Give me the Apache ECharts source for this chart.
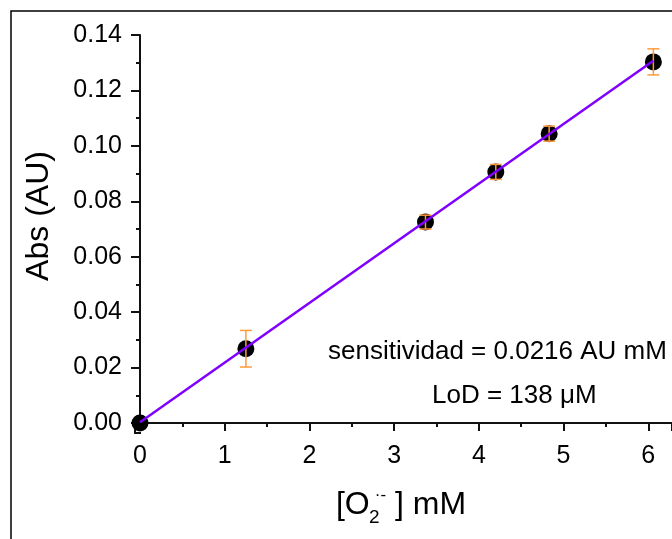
<!DOCTYPE html>
<html>
<head>
<meta charset="utf-8">
<script src="https://cdn.jsdelivr.net/npm/echarts@6/dist/echarts.min.js"></script>
<style>html,body{margin:0;padding:0;background:#fff}#c{width:672px;height:539px}</style>
</head>
<body>
<div id="c"></div>
<script>
// Data
const concentration = [0, 1.25, 3.37, 4.20, 4.83, 6.06];          // [O2-] mM
const absorbance    = [0.0000, 0.0268, 0.0725, 0.0906, 0.1044, 0.1303]; // Abs (AU)
const absError      = [0.0000, 0.0066, 0.0025, 0.0027, 0.0027, 0.0047];
const fitX = [0, 6.06];
const fitY = [0.0003, 0.1307];
const xTicks = [0, 1, 2, 3, 4, 5, 6];
const yTicks = [0.00, 0.02, 0.04, 0.06, 0.08, 0.10, 0.12, 0.14];

const FONT = 'Liberation Sans, Arial, sans-serif';
const chart = echarts.init(document.getElementById('c'), null, {renderer: 'canvas'});

const points = concentration.map((x, i) => [x, absorbance[i]]);
const errData = concentration.map((x, i) => [x, absorbance[i], absError[i]]);
const fitData = fitX.map((x, i) => [x, fitY[i]]);

chart.setOption({
  animation: false,
  backgroundColor: '#fff',
  grid: {left: 140, right: -5, top: 35, bottom: 116, containLabel: false},
  xAxis: {
    type: 'value', min: 0, max: 6.28, interval: 1, offset: 10,
    name: '[O{sub|2}{sup|·-} ] mM',
    nameLocation: 'middle', nameGap: 51,
    nameTextStyle: {
      fontFamily: FONT, fontSize: 32, color: '#000', padding: [0, 10, 0, 0],
      rich: {
        sub: {fontFamily: FONT, fontSize: 19, color: '#000', width: 1, padding: [24, 0, 0, 4]},
        sup: {fontFamily: FONT, fontSize: 17, color: '#000', padding: [0, 0, 20, 0]}
      }
    },
    axisLine: {show: true, lineStyle: {color: '#111', width: 2}},
    axisTick: {show: true, inside: false, length: 8, lineStyle: {color: '#111', width: 2}},
    minorTick: {show: true, splitNumber: 2, length: 4, lineStyle: {color: '#111', width: 2}},
    axisLabel: {
      fontFamily: FONT, fontSize: 25, color: '#000', margin: 11, showMaxLabel: false,
      formatter: v => (xTicks.indexOf(Math.round(v * 1000) / 1000) >= 0 ? String(Math.round(v)) : '')
    },
    splitLine: {show: false}
  },
  yAxis: {
    type: 'value', min: 0, max: 0.14, interval: 0.02, offset: 5,
    name: 'Abs (AU)', nameLocation: 'middle', nameGap: 80, nameRotate: 90,
    nameTextStyle: {fontFamily: FONT, fontSize: 32, color: '#000', padding: [0, 0, 0, 26]},
    axisLine: {show: true, lineStyle: {color: '#111', width: 2}},
    axisTick: {show: true, inside: false, length: 9, lineStyle: {color: '#111', width: 2}},
    minorTick: {show: true, splitNumber: 2, length: 4, lineStyle: {color: '#111', width: 2}},
    axisLabel: {
      fontFamily: FONT, fontSize: 25, color: '#000', margin: 13,
      formatter: v => yTicks.reduce((a, t) => Math.abs(t - v) < 1e-6 ? t.toFixed(2) : a, '')
    },
    splitLine: {show: false}
  },
  graphic: [
    {type: 'rect', silent: true, z: -1, shape: {x: 11, y: 11, width: 720, height: 600},
     style: {fill: 'none', stroke: '#000', lineWidth: 1.5}},
    {type: 'polyline', silent: true, shape: {points: [[135, 422], [135, 433], [141, 433]]},
     style: {stroke: '#111', lineWidth: 2, fill: 'none'}},
    {type: 'text', left: 328, top: 339, style: {text: 'sensitividad = 0.0216 AU mM', font: '26px ' + FONT, fill: '#000'}},
    {type: 'text', left: 432, top: 383, style: {text: 'LoD = 138 μM', font: '26px ' + FONT, fill: '#000'}}
  ],
  series: [
    {
      type: 'scatter', data: points, symbol: 'circle', symbolSize: 17, z: 2,
      itemStyle: {color: '#000', opacity: 1}, silent: true
    },
    {
      type: 'custom', z: 3, silent: true, data: errData,
      renderItem: function (params, api) {
        const x = api.value(0), y = api.value(1), e = api.value(2);
        if (!e) return null;
        const top = api.coord([x, y + e]);
        const bot = api.coord([x, y - e]);
        const h = 6;
        const st = {stroke: '#FF9A3A', lineWidth: 1.5};
        return {type: 'group', children: [
          {type: 'line', shape: {x1: top[0], y1: top[1], x2: bot[0], y2: bot[1]}, style: st},
          {type: 'line', shape: {x1: top[0] - h, y1: top[1], x2: top[0] + h, y2: top[1]}, style: st},
          {type: 'line', shape: {x1: bot[0] - h, y1: bot[1], x2: bot[0] + h, y2: bot[1]}, style: st}
        ]};
      }
    },
    {
      type: 'line', data: fitData, z: 4, symbol: 'none', silent: true,
      lineStyle: {color: '#8000FF', width: 2.5}
    }
  ]
});
</script>
</body>
</html>
